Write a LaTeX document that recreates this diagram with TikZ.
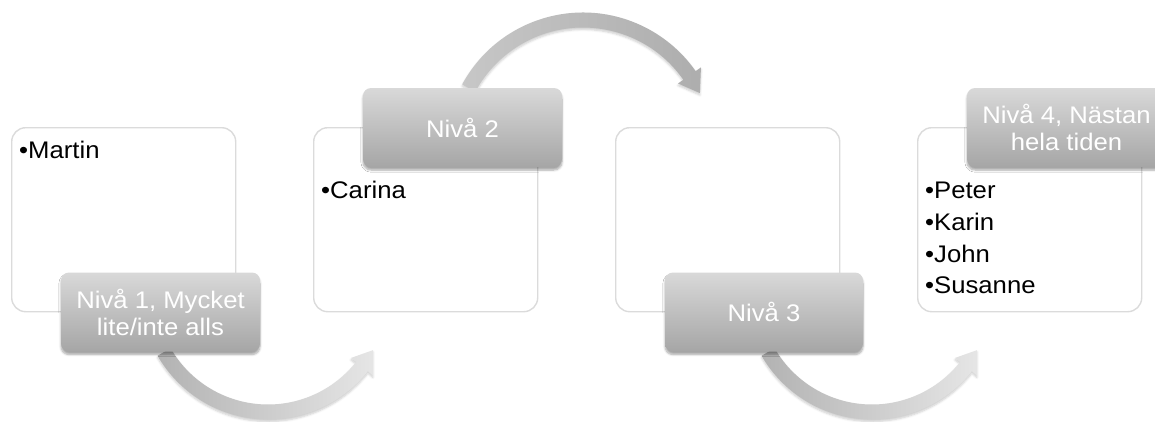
\documentclass[tikz,border=0pt]{standalone}
\usepackage{fontspec}
\setmainfont{Liberation Sans}[FakeStretch=1.07]
\usetikzlibrary{shadows.blur,calc}
\begin{document}
\begin{tikzpicture}[x=1pt,y=1pt,
  box/.style={draw=black!14, line width=1.4pt, rounded corners=14pt, fill=white,
    minimum width=224pt, minimum height=184pt, anchor=north west, inner sep=0pt},
  lab/.style={rounded corners=8pt, top color=black!15, bottom color=black!35,
    text=white, minimum width=199pt, minimum height=79pt, align=center, inner sep=0pt,
    font=\fontsize{24}{27}\selectfont,
    blur shadow={shadow xshift=0pt, shadow yshift=-3pt, shadow blur steps=6, shadow opacity=35}},
  item/.style={anchor=base west, inner sep=0pt, font=\fontsize{24}{29}\selectfont},
  lowarrow/.style={left color=black!30, right color=black!10, draw=none,
    blur shadow={shadow xshift=0pt, shadow yshift=-2pt, shadow blur steps=5, shadow opacity=20}},
  higharrow/.style={left color=black!22, right color=black!32, draw=none,
    blur shadow={shadow xshift=0pt, shadow yshift=-2pt, shadow blur steps=5, shadow opacity=20}}
]
\useasboundingbox (0,0) rectangle (1155,-421);
\clip (0,0) rectangle (1155,-421);

% content boxes
\node[box] (b1) at (11,-127) {};
\node[box] (b2) at (313,-127) {};
\node[box] (b3) at (615,-127) {};
\node[box] (b4) at (917,-127) {};

% bullet texts
\node[item] (t1) at ($(b1.north west)+(8,-31)$) {•Martin};
\node[item] (t2) at ($(b2.north west)+(8,-71)$) {•Carina};
\node[item] (t4a) at ($(b4.north west)+(8,-71)$) {•Peter};
\node[item] (t4b) at ($(b4.north west)+(8,-103)$) {•Karin};
\node[item] (t4c) at ($(b4.north west)+(8,-135)$) {•John};
\node[item] (t4d) at ($(b4.north west)+(8,-166)$) {•Susanne};

% level labels (positions)
\coordinate (p1) at (160.5,-312);
\coordinate (p2) at (462.5,-127.5);
\coordinate (p3) at (764,-312);
\coordinate (p4) at (1066.5,-127.5);

% arrow centres
\coordinate (c1) at ($(p1)+(107.5,20)$);
\coordinate (c2) at ($(p2)+(120.5,-22.5)$);
\coordinate (c3) at ($(p3)+(108,20)$);

% curved arrows
\path[lowarrow] ([shift={(c1)}]210:127.5) arc[start angle=210, end angle=321.5, radius=127.5]
  -- ([shift={(c1)}]321.5:134) -- ([shift={(c1)}]331:120) -- ([shift={(c1)}]321.5:106)
  -- ([shift={(c1)}]321.5:112.5) arc[start angle=321.5, end angle=210, radius=112.5] -- cycle;
\path[higharrow] ([shift={(c2)}]151.5:137.5) arc[start angle=151.5, end angle=35, radius=137.5]
  -- ([shift={(c2)}]35:144) -- ([shift={(c2)}]26:130) -- ([shift={(c2)}]35:116)
  -- ([shift={(c2)}]35:122.5) arc[start angle=35, end angle=151.5, radius=122.5] -- cycle;
\path[lowarrow] ([shift={(c3)}]210:127.5) arc[start angle=210, end angle=321.5, radius=127.5]
  -- ([shift={(c3)}]321.5:134) -- ([shift={(c3)}]331:120) -- ([shift={(c3)}]321.5:106)
  -- ([shift={(c3)}]321.5:112.5) arc[start angle=321.5, end angle=210, radius=112.5] -- cycle;

% labels on top
\node[lab] (l1) at (p1) {Nivå 1, Mycket\\lite/inte alls};
\node[lab] (l2) at (p2) {Nivå 2};
\node[lab, minimum width=198pt] (l3) at (p3) {Nivå 3};
\node[lab] (l4) at (p4) {Nivå 4, Nästan\\hela tiden};
\end{tikzpicture}
\end{document}
